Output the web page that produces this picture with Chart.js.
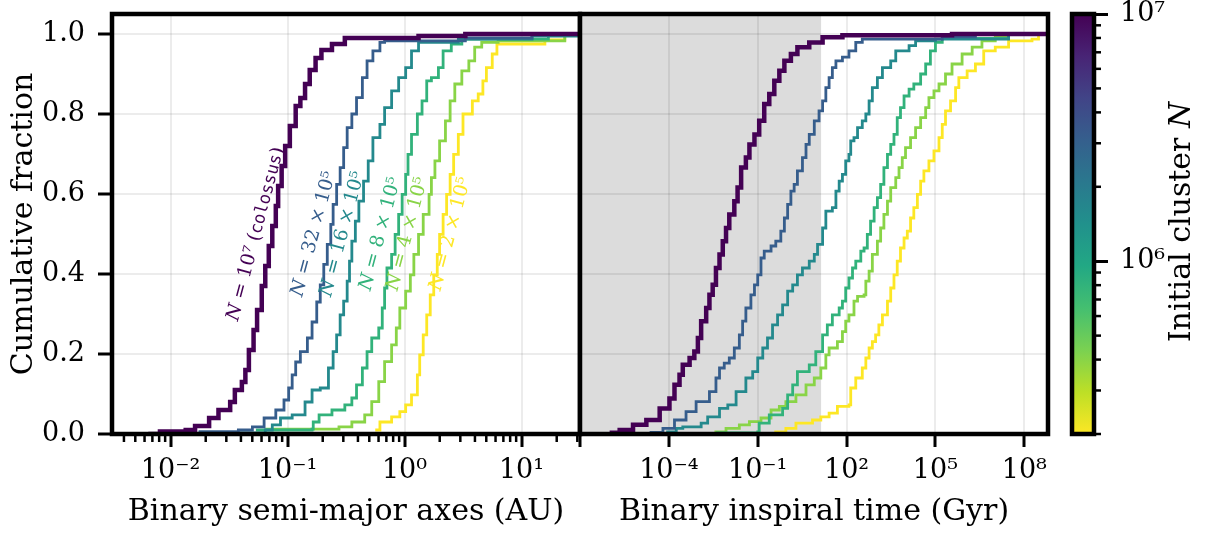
<!DOCTYPE html>
<html>
<head>
<meta charset="utf-8">
<script src="https://cdn.jsdelivr.net/npm/chart.js@4.4.0/dist/chart.umd.min.js"></script>
<style>
html, body { margin: 0; padding: 0; background: #fff; }
#wrap { position: relative; width: 1206px; height: 538px; background: #fff; }
#wrap canvas { position: absolute; left: 0; top: 0; }
</style>
</head>
<body>
<div id="wrap">
  <canvas id="left" width="1206" height="538"></canvas>
  <canvas id="right" width="1206" height="538"></canvas>
  <canvas id="cbar" width="1206" height="538"></canvas>
</div>
<script>
// cluster sizes, one curve each (colossus first so it is drawn on top)
const clusterN = [1e7, 32e5, 16e5, 8e5, 4e5, 2e5];
const clusterText = ['10⁷', '32 × 10⁵', '16 × 10⁵', '8 × 10⁵', '4 × 10⁵', '2 × 10⁵'];
// where the rotated labels sit in the left panel (AU, at fraction 0.5)
const labelAtAU = [0.054, 0.168, 0.296, 0.624, 1.06, 2.47];

// left panel: log10 semi-major axis (AU) vs cumulative fraction
const semiLog_1e7 = [-2.19, -2.09, -1.87, -1.79, -1.67, -1.59, -1.49, -1.45, -1.39, -1.36, -1.33, -1.29, -1.26, -1.22, -1.19, -1.16, -1.13, -1.10, -1.08, -1.05, -1.02, -0.98, -0.93, -0.89, -0.85, -0.81, -0.76, -0.71, -0.62, -0.51, 0.12, 0.52, 1.5];
const semiCdf_1e7 = [0, 0.006, 0.01, 0.02, 0.04, 0.06, 0.08, 0.11, 0.13, 0.16, 0.21, 0.26, 0.31, 0.37, 0.42, 0.47, 0.52, 0.57, 0.62, 0.67, 0.72, 0.77, 0.82, 0.84, 0.875, 0.91, 0.94, 0.96, 0.975, 0.99, 0.995, 1.0, 1.0];
const semiLog_32e5 = [-1.76, -1.42, -1.30, -1.20, -1.10, -1.03, -0.99, -0.96, -0.93, -0.89, -0.83, -0.79, -0.75, -0.72, -0.69, -0.66, -0.63, -0.61, -0.58, -0.55, -0.52, -0.49, -0.45, -0.41, -0.36, -0.32, -0.27, -0.21, -0.17, 0.52, 1.09, 1.5];
const semiCdf_32e5 = [0.006, 0.01, 0.018, 0.04, 0.06, 0.085, 0.115, 0.148, 0.18, 0.206, 0.24, 0.28, 0.33, 0.373, 0.424, 0.474, 0.524, 0.574, 0.624, 0.666, 0.716, 0.766, 0.80, 0.841, 0.891, 0.933, 0.958, 0.979, 0.983, 0.99, 1.0, 1.0];
const semiLog_16e5 = [-1.76, -1.19, -1.13, -1.06, -0.96, -0.85, -0.79, -0.72, -0.65, -0.61, -0.58, -0.55, -0.52, -0.49, -0.47, -0.45, -0.42, -0.39, -0.35, -0.31, -0.27, -0.21, -0.17, -0.11, -0.05, 0.01, 0.06, 0.12, 0.46, 1.09, 1.5];
const semiCdf_16e5 = [0.003, 0.01, 0.023, 0.04, 0.048, 0.08, 0.11, 0.115, 0.165, 0.206, 0.248, 0.298, 0.332, 0.382, 0.432, 0.482, 0.532, 0.582, 0.632, 0.683, 0.741, 0.774, 0.816, 0.858, 0.891, 0.916, 0.958, 0.979, 0.987, 0.995, 1.0];
const semiLog_8e5 = [-1.27, -0.79, -0.78, -0.73, -0.62, -0.51, -0.45, -0.41, -0.36, -0.32, -0.28, -0.22, -0.19, -0.17, -0.15, -0.11, -0.08, -0.05, -0.02, 0.01, 0.03, 0.06, 0.11, 0.15, 0.19, 0.23, 0.29, 0.33, 0.40, 0.49, 1.23, 1.5];
const semiCdf_8e5 = [0.01, 0.012, 0.03, 0.048, 0.06, 0.073, 0.09, 0.123, 0.165, 0.206, 0.24, 0.265, 0.315, 0.365, 0.415, 0.449, 0.499, 0.549, 0.599, 0.649, 0.699, 0.749, 0.80, 0.833, 0.883, 0.891, 0.916, 0.958, 0.975, 0.987, 1.0, 1.0];
const semiLog_4e5 = [-1.19, -0.56, -0.45, -0.34, -0.28, -0.22, -0.17, -0.11, -0.07, -0.04, 0.01, 0.05, 0.08, 0.12, 0.16, 0.21, 0.23, 0.26, 0.30, 0.35, 0.39, 0.43, 0.49, 0.55, 0.60, 0.66, 0.80, 1.37, 1.5];
const semiCdf_4e5 = [0.012, 0.018, 0.03, 0.048, 0.081, 0.131, 0.181, 0.223, 0.265, 0.315, 0.357, 0.398, 0.449, 0.499, 0.549, 0.599, 0.641, 0.683, 0.733, 0.783, 0.833, 0.875, 0.908, 0.933, 0.967, 0.979, 0.983, 1.0, 1.0];
const semiLog_2e5 = [-0.25, -0.21, -0.11, -0.04, 0.01, 0.06, 0.11, 0.13, 0.16, 0.19, 0.22, 0.25, 0.28, 0.30, 0.33, 0.36, 0.39, 0.42, 0.46, 0.50, 0.58, 0.63, 0.67, 0.70, 0.75, 0.79, 1.20, 1.37, 1.5];
const semiCdf_2e5 = [0.01, 0.03, 0.043, 0.056, 0.073, 0.098, 0.148, 0.198, 0.248, 0.298, 0.348, 0.398, 0.449, 0.499, 0.549, 0.599, 0.649, 0.699, 0.749, 0.80, 0.833, 0.85, 0.883, 0.916, 0.95, 0.975, 0.985, 1.0, 1.0];

// right panel: log10 inspiral time (Gyr) vs cumulative fraction
const tinsLog_1e7 = [-6.00, -5.66, -5.21, -4.76, -4.31, -3.98, -3.81, -3.64, -3.53, -3.30, -3.14, -3.02, -2.91, -2.74, -2.63, -2.52, -2.41, -2.29, -2.18, -2.07, -1.96, -1.79, -1.68, -1.56, -1.40, -1.28, -1.11, -0.95, -0.78, -0.61, -0.44, -0.27, -0.10, 0.12, 0.34, 0.74, 1.19, 1.86, 5.56, 8.8];
const tinsCdf_1e7 = [0.003, 0.01, 0.023, 0.035, 0.064, 0.089, 0.123, 0.148, 0.173, 0.19, 0.206, 0.24, 0.282, 0.315, 0.348, 0.373, 0.415, 0.449, 0.482, 0.515, 0.549, 0.582, 0.616, 0.666, 0.691, 0.724, 0.749, 0.783, 0.825, 0.85, 0.883, 0.908, 0.933, 0.95, 0.967, 0.979, 0.992, 0.997, 1.0, 1.0];
const tinsLog_32e5 = [-4.65, -4.20, -3.81, -3.42, -3.08, -2.63, -2.41, -2.29, -2.13, -1.96, -1.79, -1.62, -1.51, -1.40, -1.23, -1.11, -1.00, -0.89, -0.78, -0.55, -0.39, -0.22, -0.10, 0.01, 0.12, 0.23, 0.34, 0.51, 0.63, 0.74, 0.91, 1.07, 1.19, 1.30, 1.41, 1.52, 1.64, 1.86, 2.08, 2.31, 2.53, 5.23, 6.35, 8.8];
const tinsCdf_32e5 = [0.004, 0.014, 0.035, 0.056, 0.081, 0.106, 0.14, 0.165, 0.177, 0.19, 0.215, 0.248, 0.282, 0.315, 0.348, 0.373, 0.398, 0.44, 0.457, 0.47, 0.482, 0.507, 0.54, 0.574, 0.607, 0.624, 0.658, 0.691, 0.724, 0.749, 0.783, 0.808, 0.833, 0.866, 0.891, 0.916, 0.933, 0.942, 0.958, 0.979, 0.987, 0.993, 1.0, 1.0];
const tinsLog_16e5 = [-4.09, -3.75, -3.53, -2.91, -2.69, -2.29, -2.01, -1.73, -1.40, -1.17, -1.00, -0.83, -0.67, -0.50, -0.33, -0.16, 0.01, 0.18, 0.34, 0.51, 0.74, 0.91, 1.02, 1.19, 1.30, 1.52, 1.64, 1.75, 1.86, 1.97, 2.08, 2.14, 2.25, 2.37, 2.53, 2.65, 2.76, 2.87, 3.04, 3.21, 3.49, 3.66, 4.11, 4.33, 5.00, 7.47, 8.8];
const tinsCdf_16e5 = [0.005, 0.014, 0.018, 0.027, 0.043, 0.064, 0.073, 0.106, 0.14, 0.156, 0.19, 0.215, 0.24, 0.273, 0.298, 0.323, 0.357, 0.373, 0.398, 0.415, 0.432, 0.449, 0.474, 0.515, 0.557, 0.566, 0.607, 0.632, 0.649, 0.683, 0.699, 0.733, 0.741, 0.766, 0.783, 0.80, 0.833, 0.866, 0.891, 0.916, 0.933, 0.958, 0.971, 0.983, 0.987, 1.0, 1.0];
const tinsLog_8e5 = [-2.41, -1.00, -0.95, -0.61, -0.16, 0.01, 0.18, 0.34, 0.74, 0.96, 1.19, 1.35, 1.52, 1.75, 1.86, 1.97, 2.08, 2.20, 2.31, 2.48, 2.59, 2.70, 2.81, 2.93, 3.04, 3.15, 3.26, 3.38, 3.49, 3.60, 3.71, 3.82, 3.94, 4.11, 4.27, 4.50, 4.67, 4.83, 5.00, 5.23, 7.47, 8.8];
const tinsCdf_8e5 = [0.003, 0.005, 0.027, 0.048, 0.064, 0.098, 0.123, 0.156, 0.173, 0.206, 0.248, 0.273, 0.298, 0.315, 0.332, 0.365, 0.39, 0.415, 0.432, 0.457, 0.465, 0.499, 0.532, 0.566, 0.591, 0.624, 0.666, 0.699, 0.724, 0.749, 0.791, 0.816, 0.845, 0.862, 0.875, 0.90, 0.925, 0.958, 0.979, 0.989, 1.0, 1.0];
const tinsLog_4e5 = [-2.46, -2.07, -1.62, -1.28, -0.89, -0.55, -0.27, -0.05, 0.29, 0.63, 0.91, 1.13, 1.30, 1.41, 1.69, 1.86, 1.97, 2.08, 2.25, 2.37, 2.59, 2.65, 2.76, 2.87, 3.04, 3.15, 3.26, 3.38, 3.49, 3.66, 3.77, 3.88, 3.99, 4.16, 4.33, 4.50, 4.67, 4.78, 4.95, 5.12, 5.34, 5.56, 5.90, 6.24, 6.57, 7.02, 7.47, 8.8];
const tinsCdf_4e5 = [0.005, 0.014, 0.023, 0.031, 0.04, 0.06, 0.069, 0.081, 0.098, 0.123, 0.14, 0.165, 0.198, 0.215, 0.231, 0.256, 0.282, 0.298, 0.332, 0.344, 0.348, 0.382, 0.407, 0.449, 0.482, 0.515, 0.549, 0.582, 0.616, 0.641, 0.666, 0.691, 0.716, 0.741, 0.766, 0.791, 0.816, 0.841, 0.858, 0.875, 0.90, 0.925, 0.95, 0.967, 0.983, 0.993, 1.0, 1.0];
const tinsLog_2e5 = [-0.44, -0.05, 0.29, 0.85, 1.13, 1.41, 1.69, 2.08, 2.14, 2.31, 2.53, 2.65, 2.76, 2.87, 2.98, 3.09, 3.21, 3.38, 3.49, 3.60, 3.71, 3.82, 3.94, 4.05, 4.16, 4.27, 4.39, 4.50, 4.61, 4.78, 4.95, 5.12, 5.23, 5.34, 5.51, 5.68, 5.79, 6.07, 6.35, 6.63, 7.02, 7.47, 8.26, 8.48, 8.8];
const tinsCdf_2e5 = [0.005, 0.014, 0.027, 0.035, 0.043, 0.052, 0.069, 0.073, 0.115, 0.14, 0.165, 0.19, 0.215, 0.231, 0.248, 0.273, 0.298, 0.332, 0.365, 0.398, 0.432, 0.465, 0.49, 0.507, 0.54, 0.566, 0.599, 0.632, 0.658, 0.683, 0.708, 0.741, 0.774, 0.808, 0.833, 0.866, 0.891, 0.908, 0.925, 0.958, 0.967, 0.983, 0.987, 1.0, 1.0];

const semiLogs = [semiLog_1e7, semiLog_32e5, semiLog_16e5, semiLog_8e5, semiLog_4e5, semiLog_2e5];
const semiCdfs = [semiCdf_1e7, semiCdf_32e5, semiCdf_16e5, semiCdf_8e5, semiCdf_4e5, semiCdf_2e5];
const tinsLogs = [tinsLog_1e7, tinsLog_32e5, tinsLog_16e5, tinsLog_8e5, tinsLog_4e5, tinsLog_2e5];
const tinsCdfs = [tinsCdf_1e7, tinsCdf_32e5, tinsCdf_16e5, tinsCdf_8e5, tinsCdf_4e5, tinsCdf_2e5];

const yTicks = [0, 0.2, 0.4, 0.6, 0.8, 1.0];
const semiTicks = [1e-2, 1e-1, 1, 10];
const tinsTicks = [1e-7, 1e-4, 1e-1, 1e2, 1e5, 1e8];
const cbarTicks = [1e6, 1e7];
const hubbleGyr = 13.8;
const nMin = 2e5, nMax = 1e7;

// ---- layout / style ----
const W = 1206, H = 538;
const BOX = { top: 14, bottom: 434, left: 112, mid: 580, right: 1048, cbLeft: 1072, cbRight: 1094 };
const SERIF = "'DejaVu Serif', serif";
const MONO = "'DejaVu Sans Mono', monospace";
const GRID = 'rgba(0,0,0,0.075)';
const viridis = ['#440154', '#482475', '#414487', '#355f8d', '#2a788e', '#21918c', '#22a884', '#44bf70', '#7ad151', '#bddf26', '#fde725'];

Chart.defaults.font.family = SERIF;
Chart.defaults.color = '#000';

const hex = h => [1, 3, 5].map(i => parseInt(h.slice(i, i + 2), 16));
const viridisAt = (t) => {
    const f = Math.min(Math.max(t, 0), 1) * 10;
    const i = Math.min(Math.floor(f), 9);
    const a = hex(viridis[i]), b = hex(viridis[i + 1]);
    const u = f - i;
    return 'rgb(' + a.map((c, k) => Math.round(c + (b[k] - c) * u)).join(',') + ')';
};
// colour bar runs purple (big N) to yellow (small N)
const colorForN = n => viridisAt(1 - (Math.log10(n) - Math.log10(nMin)) / (Math.log10(nMax) - Math.log10(nMin)));

const SUP = { '-': '⁻', '0': '⁰', '1': '¹', '2': '²', '3': '³', '4': '⁴', '5': '⁵', '6': '⁶', '7': '⁷', '8': '⁸', '9': '⁹' };
const pow10Label = v => '10' + String(Math.round(Math.log10(v))).split('').map(c => SUP[c]).join('');

const makeSet = (logs, cdf, i) => ({
    data: logs.map((e, k) => ({ x: Math.pow(10, e), y: cdf[k] })),
    borderColor: colorForN(clusterN[i]),
    borderWidth: i === 0 ? 4.5 : 2.8,
    stepped: 'before',
    pointRadius: 0,
    fill: false,
    tension: 0
});

// keep the plot boxes where they are, no room added for overhanging labels
const pinBox = (s, size) => {
    if (s.isHorizontal()) s.height = size; else s.width = size;
    s.paddingTop = s.paddingBottom = s.paddingLeft = s.paddingRight = 0;
};

// ---- plugins ----
const frameBox = {
    id: 'frameBox',
    afterDatasetsDraw(chart) {
        const { ctx, chartArea: a } = chart;
        ctx.save();
        ctx.strokeStyle = '#000';
        ctx.lineWidth = 4.5;
        ctx.strokeRect(a.left, a.top, a.right - a.left, a.bottom - a.top);
        ctx.restore();
    }
};

const minorTicksX = {
    id: 'minorTicksX',
    afterDraw(chart) {
        const { ctx, chartArea: a, scales: { x } } = chart;
        ctx.save();
        ctx.strokeStyle = '#000';
        ctx.lineWidth = 2.5;
        for (let e = -3; e <= 1; e++) {
            for (let k = 2; k <= 9; k++) {
                const v = k * Math.pow(10, e);
                if (v < x.min || v > x.max) continue;
                const px = x.getPixelForValue(v);
                ctx.beginPath();
                ctx.moveTo(px, a.bottom);
                ctx.lineTo(px, a.bottom + 8);
                ctx.stroke();
            }
        }
        ctx.restore();
    }
};

const curveLabels = {
    id: 'curveLabels',
    afterDatasetsDraw(chart) {
        const { ctx, scales: { x, y } } = chart;
        const size = 19;
        const fonts = {
            it: 'italic ' + size + 'px ' + SERIF,
            rm: size + 'px ' + SERIF,
            tt: (size - 2) + 'px ' + MONO
        };
        clusterN.forEach((n, i) => {
            const parts = [['it', 'N'], ['rm', ' = ' + clusterText[i]]];
            if (i === 0) parts.push(['rm', ' ('], ['tt', 'colossus'], ['rm', ')']);
            ctx.save();
            ctx.translate(x.getPixelForValue(labelAtAU[i]), y.getPixelForValue(0.5));
            ctx.rotate(-75 * Math.PI / 180);
            ctx.fillStyle = colorForN(n);
            ctx.textBaseline = 'middle';
            let total = 0;
            parts.forEach(p => { ctx.font = fonts[p[0]]; total += ctx.measureText(p[1]).width; });
            let cx = -total / 2;
            parts.forEach(p => {
                ctx.font = fonts[p[0]];
                ctx.fillText(p[1], cx, 0);
                cx += ctx.measureText(p[1]).width;
            });
            ctx.restore();
        });
    }
};

const hubbleSpan = {
    id: 'hubbleSpan',
    beforeDraw(chart) {
        const { ctx, chartArea: a, scales: { x } } = chart;
        const xr = x.getPixelForValue(hubbleGyr);
        ctx.save();
        ctx.fillStyle = '#dcdcdc';
        ctx.fillRect(a.left, a.top, xr - a.left, a.bottom - a.top);
        ctx.restore();
    }
};

const colorBar = {
    id: 'colorBar',
    afterDraw(chart) {
        const { ctx, chartArea: a, scales: { y } } = chart;
        ctx.save();
        const g = ctx.createLinearGradient(0, a.bottom, 0, a.top);
        viridis.forEach((c, i) => g.addColorStop(i / 10, viridis[10 - i]));
        ctx.fillStyle = g;
        ctx.fillRect(a.left, a.top, a.right - a.left, a.bottom - a.top);
        ctx.strokeStyle = '#000';
        ctx.lineWidth = 2.5;
        for (let e = 5; e <= 6; e++) {
            for (let k = 2; k <= 9; k++) {
                const v = k * Math.pow(10, e);
                if (v < nMin || v > nMax) continue;
                const py = y.getPixelForValue(v);
                ctx.beginPath();
                ctx.moveTo(a.right, py);
                ctx.lineTo(a.right + 7, py);
                ctx.stroke();
            }
        }
        ctx.lineWidth = 4.5;
        ctx.strokeRect(a.left, a.top, a.right - a.left, a.bottom - a.top);
        // colour bar label, reads bottom to top
        ctx.translate(1182, 222);
        ctx.rotate(-Math.PI / 2);
        ctx.fillStyle = '#000';
        ctx.textBaseline = 'middle';
        const rm = '30px ' + SERIF, it = 'italic 30px ' + SERIF;
        ctx.font = rm;
        const w1 = ctx.measureText('Initial cluster ').width;
        ctx.font = it;
        const w2 = ctx.measureText('N').width;
        let cx = -(w1 + w2) / 2;
        ctx.font = rm;
        ctx.fillText('Initial cluster ', cx, 0);
        ctx.font = it;
        ctx.fillText('N', cx + w1, 0);
        ctx.restore();
    }
};

const tickFont = { family: SERIF, size: 27 };
const titleFont = { family: SERIF, size: 30 };
const majorGrid = { color: GRID, lineWidth: 2, tickColor: '#000', tickWidth: 3, tickLength: 13 };

const yScale = (showLabels) => ({
    min: 0,
    max: 1.05,
    afterBuildTicks: s => { s.ticks = yTicks.map(v => ({ value: v })); },
    ticks: { display: showLabels, callback: v => v.toFixed(1), font: tickFont, color: '#000', padding: 13 },
    grid: showLabels ? Object.assign({}, majorGrid, { tickLength: 14 }) : { color: GRID, lineWidth: 2, drawTicks: false },
    border: { display: false },
    title: { display: showLabels, text: 'Cumulative fraction', font: titleFont, color: '#000', padding: { top: 6, bottom: 0 } },
    afterFit: s => pinBox(s, showLabels ? BOX.left : 0)
});

const baseOptions = (padding) => ({
    responsive: false,
    animation: false,
    devicePixelRatio: 1,
    layout: { padding },
    plugins: { legend: { display: false }, tooltip: { enabled: false } }
});

// ---- left panel: semi-major axes ----
new Chart(document.getElementById('left'), {
    type: 'line',
    data: { datasets: clusterN.map((n, i) => makeSet(semiLogs[i], semiCdfs[i], i)) },
    options: Object.assign(baseOptions({ left: 0, top: BOX.top, right: W - BOX.mid, bottom: 0 }), {
        scales: {
            x: {
                type: 'logarithmic',
                min: Math.pow(10, -2.5),
                max: Math.pow(10, 1.5),
                afterBuildTicks: s => { s.ticks = semiTicks.map(v => ({ value: v })); },
                ticks: { callback: v => pow10Label(v), font: tickFont, color: '#000', padding: 8, maxRotation: 0, autoSkip: false },
                grid: majorGrid,
                border: { display: false },
                title: { display: true, text: 'Binary semi-major axes (AU)', font: titleFont, color: '#000', padding: { top: 0, bottom: 8 } },
                afterFit: s => pinBox(s, H - BOX.bottom)
            },
            y: yScale(true)
        }
    }),
    plugins: [minorTicksX, curveLabels, frameBox]
});

// ---- right panel: inspiral time ----
new Chart(document.getElementById('right'), {
    type: 'line',
    data: { datasets: clusterN.map((n, i) => makeSet(tinsLogs[i], tinsCdfs[i], i)) },
    options: Object.assign(baseOptions({ left: BOX.mid, top: BOX.top, right: W - BOX.right, bottom: 0 }), {
        scales: {
            x: {
                type: 'logarithmic',
                min: 1e-7,
                max: Math.pow(10, 8.8),
                afterBuildTicks: s => { s.ticks = tinsTicks.map(v => ({ value: v })); },
                ticks: { callback: v => (v < 1e-6 ? '' : pow10Label(v)), font: tickFont, color: '#000', padding: 8, maxRotation: 0, autoSkip: false },
                grid: majorGrid,
                border: { display: false },
                title: { display: true, text: 'Binary inspiral time (Gyr)', font: titleFont, color: '#000', padding: { top: 0, bottom: 8 } },
                afterFit: s => pinBox(s, H - BOX.bottom)
            },
            y: yScale(false)
        }
    }),
    plugins: [hubbleSpan, frameBox]
});

// ---- colour bar ----
new Chart(document.getElementById('cbar'), {
    type: 'line',
    data: { datasets: [] },
    options: Object.assign(baseOptions({ left: BOX.cbLeft, top: BOX.top, right: 0, bottom: H - BOX.bottom }), {
        scales: {
            x: { display: false },
            y: {
                type: 'logarithmic',
                position: 'right',
                min: nMin,
                max: nMax,
                afterBuildTicks: s => { s.ticks = cbarTicks.map(v => ({ value: v })); },
                ticks: { callback: v => pow10Label(v), font: tickFont, color: '#000', padding: 12 },
                grid: { drawOnChartArea: false, tickColor: '#000', tickWidth: 3, tickLength: 14 },
                border: { display: false },
                afterFit: s => pinBox(s, W - BOX.cbRight)
            }
        }
    }),
    plugins: [colorBar]
});
</script>
</body>
</html>
